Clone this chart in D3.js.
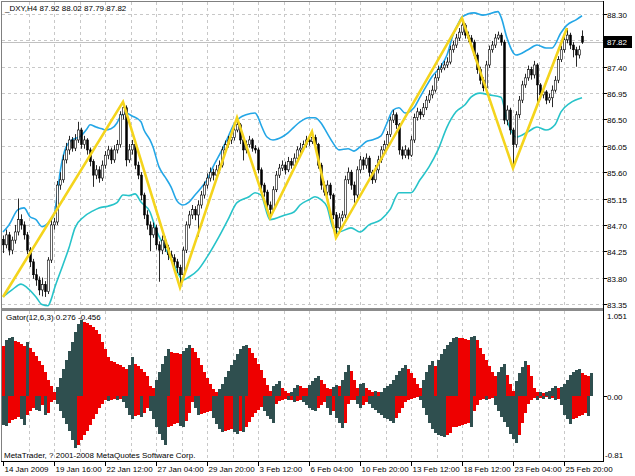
<!DOCTYPE html>
<html><head><meta charset="utf-8">
<script src="https://cdn.jsdelivr.net/npm/d3@7/dist/d3.min.js"></script>
<style>body{margin:0;background:#fff}text{font-family:"Liberation Sans",Arial,sans-serif;font-size:8px;fill:#000}</style>
</head><body><svg id="c" width="635" height="476"></svg>
<script>
const symbolTitle = "_DXY,H4  87.92 88.02 87.79 87.82";
const gatorTitle = "Gator(12,6,3) 0.276 -0.456";
const copyright = "MetaTrader, ? 2001-2008 MetaQuotes Software Corp.";
const timeLabels = ["14 Jan 2009","19 Jan 16:00","22 Jan 12:00","27 Jan 04:00","29 Jan 20:00","3 Feb 12:00","6 Feb 04:00","10 Feb 20:00","13 Feb 12:00","18 Feb 12:00","23 Feb 04:00","25 Feb 20:00"];
const timeLabelIdx = [0,17,34,51,68,85,102,119,136,153,170,187];
const priceTicks = [83.35,83.80,84.25,84.70,85.15,85.60,86.05,86.50,86.95,87.40,87.85,88.30];
const gatorTicks = [1.051,0.00,-0.81];
const lastPrice = 87.82;

const open = [84.45,84.36,84.53,84.27,84.44,84.58,84.79,84.70,84.53,84.27,84.07,83.85,83.76,83.59,83.68,83.56,84.10,84.70,84.75,85.38,85.47,85.81,85.98,86.15,86.01,86.15,86.32,86.07,86.15,85.98,85.78,85.55,85.64,85.50,85.72,85.89,85.98,85.81,85.98,86.07,86.58,86.70,85.81,85.98,86.07,85.72,85.55,85.21,84.87,84.70,84.53,84.65,84.36,84.27,84.44,84.31,84.19,84.14,84.07,83.97,83.85,84.27,84.70,84.87,84.96,84.87,85.04,85.21,85.38,85.50,85.60,85.55,85.64,85.72,85.98,86.07,86.15,86.19,86.32,86.41,86.15,85.98,86.07,86.15,86.01,85.98,85.64,85.38,85.26,85.04,84.96,85.30,85.55,85.67,85.72,85.64,85.78,85.72,85.84,85.98,86.01,86.07,86.15,86.12,86.19,86.07,85.72,85.38,85.26,85.38,85.21,84.87,84.65,84.82,84.87,85.47,85.60,85.38,85.21,85.64,85.81,85.72,85.84,85.60,85.47,85.64,85.81,85.98,86.07,86.24,86.49,86.58,86.41,85.98,85.89,85.98,85.89,86.15,86.53,86.63,86.58,86.70,86.83,86.92,87.00,87.21,87.35,87.38,87.43,87.48,87.69,87.77,87.89,87.99,88.11,87.94,87.89,87.82,87.60,87.35,87.17,87.04,87.43,87.69,87.77,87.89,87.94,87.82,86.49,86.66,86.32,86.07,86.58,86.83,87.09,87.21,87.35,87.26,87.43,87.09,86.92,86.97,86.83,86.87,87.00,87.17,87.52,87.69,87.86,87.94,87.77,87.69,87.60,87.92];
const high = [84.52,84.62,84.58,84.50,84.70,85.15,84.88,84.76,84.58,84.32,84.12,83.95,83.82,83.80,83.74,84.15,84.78,84.82,85.45,85.60,85.90,86.10,86.22,86.20,86.25,86.46,86.36,86.22,86.18,86.02,85.82,85.72,85.70,85.80,85.96,86.05,86.02,86.06,86.15,86.64,86.80,86.74,86.08,86.15,86.10,85.78,85.60,85.25,84.95,84.76,84.74,84.70,84.42,84.52,84.50,84.36,84.26,84.20,84.12,84.02,84.33,84.76,84.94,85.04,85.02,85.12,85.28,85.44,85.58,85.68,85.66,85.72,85.80,86.04,86.14,86.22,86.26,86.38,86.53,86.44,86.18,86.14,86.22,86.18,86.06,86.02,85.68,85.42,85.30,85.10,85.36,85.62,85.74,85.80,85.78,85.86,85.84,85.92,86.04,86.10,86.14,86.22,86.20,86.29,86.24,86.10,85.76,85.44,85.46,85.42,85.24,84.92,84.90,84.94,85.54,85.68,85.64,85.44,85.70,85.88,85.86,85.92,85.88,85.64,85.72,85.88,86.04,86.14,86.30,86.55,86.66,86.62,86.44,86.04,86.06,86.02,86.22,86.60,86.70,86.68,86.78,86.90,87.00,87.08,87.28,87.42,87.46,87.50,87.56,87.76,87.84,87.96,88.06,88.23,88.14,88.00,87.94,87.86,87.64,87.40,87.22,87.50,87.76,87.84,87.96,88.00,87.98,87.86,86.74,86.70,86.36,86.64,86.90,87.16,87.28,87.42,87.40,87.50,87.46,87.12,87.04,87.00,86.94,87.08,87.24,87.58,87.76,87.94,88.06,87.98,87.82,87.74,87.76,88.02];
const low = [84.22,84.30,84.18,84.20,84.38,84.52,84.62,84.45,84.20,83.98,83.78,83.66,83.50,83.48,83.47,83.52,84.05,84.62,84.70,85.30,85.42,85.75,85.90,85.95,85.96,86.10,86.00,86.00,85.90,85.70,85.35,85.48,85.42,85.45,85.66,85.82,85.74,85.76,85.92,86.02,86.50,85.70,85.76,85.90,85.65,85.48,85.12,84.80,84.62,84.25,84.48,84.28,83.73,84.20,84.24,84.10,84.06,83.98,83.88,83.63,83.80,84.22,84.64,84.80,84.78,84.50,84.98,85.15,85.32,85.44,85.46,85.50,85.58,85.68,85.92,86.02,86.08,86.14,86.28,86.08,85.80,85.92,86.02,85.95,85.92,85.58,85.30,85.18,84.96,84.82,84.92,85.26,85.50,85.62,85.56,85.60,85.66,85.68,85.80,85.92,85.96,86.02,86.05,86.08,86.00,85.66,85.30,85.20,85.20,85.14,84.80,84.48,84.60,84.76,84.82,85.40,85.30,85.08,85.16,85.58,85.64,85.66,85.52,85.40,85.42,85.58,85.76,85.92,86.02,86.20,86.44,86.34,85.90,85.82,85.84,85.82,85.86,86.10,86.48,86.50,86.54,86.66,86.78,86.86,86.96,87.16,87.30,87.34,87.38,87.44,87.64,87.72,87.84,87.94,87.88,87.82,87.74,87.54,87.28,87.10,86.98,87.00,87.38,87.64,87.72,87.86,87.76,86.42,86.40,86.24,85.67,86.02,86.52,86.78,87.04,87.16,87.18,87.20,86.80,86.84,86.86,86.76,86.78,86.71,86.96,87.12,87.48,87.64,87.80,87.70,87.56,87.40,87.54,87.79];
const close = [84.36,84.53,84.27,84.44,84.58,84.79,84.70,84.53,84.27,84.07,83.85,83.76,83.59,83.68,83.56,84.10,84.70,84.75,85.38,85.47,85.81,85.98,86.15,86.01,86.15,86.32,86.07,86.15,85.98,85.78,85.55,85.64,85.50,85.72,85.89,85.98,85.81,85.98,86.07,86.58,86.70,85.81,85.98,86.07,85.72,85.55,85.21,84.87,84.70,84.53,84.65,84.36,84.27,84.44,84.31,84.19,84.14,84.07,83.97,83.85,84.27,84.70,84.87,84.96,84.87,85.04,85.21,85.38,85.50,85.60,85.55,85.64,85.72,85.98,86.07,86.15,86.19,86.32,86.41,86.15,85.98,86.07,86.15,86.01,85.98,85.64,85.38,85.26,85.04,84.96,85.30,85.55,85.67,85.72,85.64,85.78,85.72,85.84,85.98,86.01,86.07,86.15,86.12,86.19,86.07,85.72,85.38,85.26,85.38,85.21,84.87,84.65,84.82,84.87,85.47,85.60,85.38,85.21,85.64,85.81,85.72,85.84,85.60,85.47,85.64,85.81,85.98,86.07,86.24,86.49,86.58,86.41,85.98,85.89,85.98,85.89,86.15,86.53,86.63,86.58,86.70,86.83,86.92,87.00,87.21,87.35,87.38,87.43,87.48,87.69,87.77,87.89,87.99,88.11,87.94,87.89,87.82,87.60,87.35,87.17,87.04,87.43,87.69,87.77,87.89,87.94,87.82,86.49,86.66,86.32,86.07,86.58,86.83,87.09,87.21,87.35,87.26,87.43,87.09,86.92,86.97,86.83,86.87,87.00,87.17,87.52,87.69,87.86,87.94,87.77,87.69,87.60,87.69,87.82];

const upperBandIdx = [0,2,5,7,9,11,13,15,17,18,19,20,21,23,26,28,29,31,33,34,36,38,39,41,43,46,47,49,50,52,54,56,58,60,62,64,66,68,70,73,75,77,79,81,84,85,86,88,90,93,95,97,99,102,104,106,108,110,112,115,117,119,121,123,126,128,130,132,134,137,139,141,143,146,148,150,152,153,157,160,165,166,168,171,175,178,181,183,186,188,191,193];
const upperBand = [84.58,84.70,84.96,84.99,84.84,84.79,84.67,84.73,84.87,85.18,85.59,85.86,86.03,86.15,86.22,86.34,86.41,86.37,86.34,86.32,86.34,86.44,86.54,86.61,86.56,86.46,86.32,86.15,86.03,85.69,85.52,85.35,85.11,85.04,85.09,85.21,85.33,85.47,85.69,85.98,86.20,86.42,86.53,86.58,86.61,86.54,86.41,86.20,86.15,86.20,86.27,86.37,86.46,86.53,86.53,86.44,86.27,86.10,85.98,86.00,85.96,86.03,86.12,86.15,86.22,86.44,86.66,86.70,86.61,86.70,86.88,87.06,87.23,87.41,87.60,87.94,88.16,88.25,88.32,88.28,88.34,88.25,87.89,87.60,87.69,87.77,87.72,87.72,87.98,88.11,88.20,88.27];
const lowerBandIdx = [0,3,6,8,11,13,15,16,17,20,22,24,27,30,32,35,38,40,42,44,46,49,51,54,57,60,62,65,68,72,75,78,82,84,86,89,94,97,99,102,104,106,108,110,112,116,119,122,126,129,132,136,139,142,145,148,151,154,156,159,162,166,168,171,175,178,181,184,186,189,193];
const lowerBand = [83.47,83.59,83.69,83.63,83.47,83.34,83.32,83.42,83.59,84.02,84.31,84.65,84.84,84.94,84.99,85.02,85.08,85.21,85.20,85.23,85.09,84.92,84.62,84.31,84.02,83.76,83.81,83.93,84.15,84.50,84.79,85.08,85.18,85.25,85.21,84.79,84.87,84.92,85.04,85.13,85.18,85.13,85.01,84.65,84.58,84.65,84.58,84.70,84.79,84.96,85.25,85.25,85.47,85.69,85.98,86.37,86.63,86.75,86.88,86.95,86.92,86.88,86.49,86.20,86.29,86.37,86.32,86.41,86.63,86.78,86.87];

const zigzagIdx = [0,40,59,78,89,103,111,153,170,188];
const zigzagPrice = [83.47,86.80,83.63,86.53,84.82,86.29,84.48,88.23,85.67,88.06];

const gatorUpper = [0.62,0.70,0.72,0.74,0.69,0.67,0.65,0.62,0.67,0.60,0.55,0.50,0.44,0.38,0.30,0.20,0.12,0.04,0.11,0.22,0.33,0.45,0.56,0.68,0.80,0.90,0.95,0.93,0.91,0.89,0.86,0.83,0.78,0.68,0.58,0.48,0.44,0.42,0.40,0.38,0.36,0.34,0.38,0.48,0.40,0.37,0.34,0.30,0.25,0.12,0.10,0.20,0.30,0.40,0.50,0.58,0.55,0.54,0.53,0.52,0.56,0.60,0.63,0.60,0.55,0.47,0.38,0.30,0.22,0.15,0.08,0.04,0.08,0.15,0.23,0.31,0.38,0.45,0.52,0.58,0.62,0.64,0.60,0.54,0.47,0.40,0.32,0.22,0.13,0.06,0.12,0.15,0.18,0.10,0.06,0.03,0.05,0.10,0.13,0.12,0.10,0.09,0.13,0.18,0.22,0.24,0.20,0.14,0.10,0.08,0.11,0.13,0.12,0.20,0.30,0.39,0.31,0.20,0.10,0.14,0.16,0.10,0.07,0.05,0.06,0.04,0.05,0.09,0.12,0.14,0.20,0.26,0.31,0.35,0.39,0.34,0.28,0.22,0.15,0.10,0.20,0.30,0.38,0.44,0.37,0.45,0.52,0.58,0.63,0.68,0.72,0.74,0.73,0.72,0.71,0.70,0.74,0.75,0.70,0.60,0.52,0.45,0.37,0.30,0.24,0.30,0.36,0.40,0.26,0.14,0.06,0.18,0.28,0.36,0.44,0.38,0.24,0.10,0.04,0.05,0.03,0.04,0.06,0.10,0.12,0.10,0.11,0.14,0.20,0.26,0.30,0.32,0.33,0.29,0.26,0.24,0.28];
const gatorLower = [-0.37,-0.38,-0.34,-0.31,-0.29,-0.27,-0.30,-0.37,-0.25,-0.20,-0.15,-0.18,-0.20,-0.12,-0.24,-0.22,-0.08,-0.05,-0.10,-0.20,-0.28,-0.36,-0.45,-0.56,-0.66,-0.62,-0.56,-0.50,-0.44,-0.37,-0.30,-0.23,-0.16,-0.10,-0.06,-0.07,-0.05,-0.04,-0.05,-0.04,-0.08,-0.16,-0.24,-0.30,-0.26,-0.24,-0.27,-0.22,-0.15,-0.20,-0.30,-0.40,-0.48,-0.56,-0.62,-0.40,-0.38,-0.36,-0.34,-0.38,-0.40,-0.32,-0.22,-0.08,-0.15,-0.24,-0.23,-0.22,-0.21,-0.20,-0.28,-0.36,-0.42,-0.46,-0.44,-0.43,-0.42,-0.46,-0.48,-0.44,-0.46,-0.40,-0.33,-0.27,-0.22,-0.18,-0.14,-0.20,-0.26,-0.30,-0.35,-0.10,-0.07,-0.05,-0.04,-0.06,-0.05,-0.08,-0.07,-0.06,-0.08,-0.12,-0.16,-0.18,-0.20,-0.16,-0.12,-0.08,-0.16,-0.24,-0.20,-0.28,-0.35,-0.41,-0.35,-0.10,-0.06,-0.05,-0.10,-0.15,-0.12,-0.08,-0.10,-0.15,-0.18,-0.22,-0.25,-0.28,-0.30,-0.32,-0.34,-0.28,-0.22,-0.15,-0.08,-0.05,-0.04,-0.03,-0.02,-0.05,-0.15,-0.25,-0.34,-0.42,-0.47,-0.50,-0.51,-0.52,-0.49,-0.47,-0.40,-0.39,-0.38,-0.37,-0.36,-0.35,-0.39,-0.20,-0.12,-0.06,-0.04,-0.05,-0.04,-0.03,-0.12,-0.20,-0.27,-0.33,-0.40,-0.48,-0.55,-0.60,-0.50,-0.35,-0.22,-0.10,-0.05,-0.03,-0.05,-0.03,-0.04,-0.02,-0.04,-0.03,-0.05,-0.04,-0.12,-0.25,-0.30,-0.36,-0.30,-0.28,-0.26,-0.24,-0.22,-0.26];

const svg = d3.select("#c");
const x = d3.scaleLinear().domain([0, 1]).range([3, 6]);
const y = d3.scaleLinear().domain([83.35, 88.30]).range([304, 14]);
const g = d3.scaleLinear().domain([-0.81, 1.051]).range([460, 312]);
const L = 2, R = 603, T = 2, MB = 308, GT = 311, GB = 461;

svg.append("rect").attr("width", 635).attr("height", 476).attr("fill", "#fff");
const defs = svg.append("defs");
defs.append("clipPath").attr("id", "cm").append("rect").attr("x", L).attr("y", T).attr("width", R - L).attr("height", MB - T);
defs.append("clipPath").attr("id", "cg").append("rect").attr("x", L).attr("y", GT).attr("width", R - L).attr("height", GB - GT);

// grid
const gridCol = "#c8c8c8";
const vIdx = d3.range(1, 23).map(k => k * 8.5);
const grid = svg.append("g").attr("stroke", gridCol).attr("stroke-dasharray", "3,3").attr("shape-rendering", "crispEdges");
vIdx.forEach(v => {
  const xx = Math.round(x(v)) + 0.5;
  if (xx < R) {
    grid.append("line").attr("x1", xx).attr("x2", xx).attr("y1", T).attr("y2", MB);
    grid.append("line").attr("x1", xx).attr("x2", xx).attr("y1", GT).attr("y2", GB);
  }
});
priceTicks.forEach(p => {
  const yy = Math.round(y(p)) + 0.5;
  grid.append("line").attr("x1", L).attr("x2", R).attr("y1", yy).attr("y2", yy);
});
// bid line
svg.append("line").attr("x1", L).attr("x2", R).attr("y1", Math.round(y(lastPrice)) + 0.5).attr("y2", Math.round(y(lastPrice)) + 0.5)
  .attr("stroke", "#c0c0c0").attr("shape-rendering", "crispEdges");

// main panel
const main = svg.append("g").attr("clip-path", "url(#cm)");
const line = d3.line().x(d => x(d[0])).y(d => y(d[1])).curve(d3.curveMonotoneX);
main.append("path").attr("d", line(upperBandIdx.map((v, i) => [v, upperBand[i]])))
  .attr("fill", "none").attr("stroke", "#23a6e6").attr("stroke-width", 1.6);
main.append("path").attr("d", line(lowerBandIdx.map((v, i) => [v, lowerBand[i]])))
  .attr("fill", "none").attr("stroke", "#27c3c9").attr("stroke-width", 1.6);

const candles = main.append("g");
close.forEach((c, i) => {
  const cx = Math.round(x(i));
  const o = open[i];
  candles.append("line").attr("x1", cx + 0.5).attr("x2", cx + 0.5).attr("y1", y(high[i])).attr("y2", y(low[i]))
    .attr("stroke", "#111").attr("stroke-width", 0.9);
  const top = y(Math.max(o, c)), bot = y(Math.min(o, c));
  candles.append("rect").attr("x", cx - 0.4).attr("y", top).attr("width", 1.8).attr("height", Math.max(1, bot - top))
    .attr("fill", c >= o ? "#fff" : "#000").attr("stroke", "#000").attr("stroke-width", 0.6);
});

main.append("path").attr("d", d3.line().x(d => x(d[0])).y(d => y(d[1]))(zigzagIdx.map((v, i) => [v, zigzagPrice[i]])))
  .attr("fill", "none").attr("stroke", "#f4d41c").attr("stroke-width", 2.6).attr("stroke-linejoin", "miter");

// gator panel
const dark = "#2f4f4f", red = "#ee0000";
const gp = svg.append("g").attr("clip-path", "url(#cg)").attr("shape-rendering", "crispEdges");
let prevCol = red;
gatorUpper.forEach((v, i) => {
  let col = prevCol;
  if (i > 0) { if (v > gatorUpper[i - 1]) col = dark; else if (v < gatorUpper[i - 1]) col = red; }
  prevCol = col;
  gp.append("rect").attr("x", Math.round(x(i)) - 1).attr("width", 3).attr("y", g(v)).attr("height", g(0) - g(v)).attr("fill", col);
});
prevCol = dark;
gatorLower.forEach((v, i) => {
  let col = prevCol;
  if (i > 0) { if (Math.abs(v) > Math.abs(gatorLower[i - 1])) col = dark; else if (Math.abs(v) < Math.abs(gatorLower[i - 1])) col = red; }
  prevCol = col;
  gp.append("rect").attr("x", Math.round(x(i)) - 1).attr("width", 3).attr("y", g(0)).attr("height", g(v) - g(0)).attr("fill", col);
});

// frames
const fr = svg.append("g").attr("shape-rendering", "crispEdges");
fr.append("line").attr("x1", 1.5).attr("x2", 1.5).attr("y1", 1).attr("y2", GB).attr("stroke", "#808080");
fr.append("line").attr("x1", 1).attr("x2", R).attr("y1", 1.5).attr("y2", 1.5).attr("stroke", "#808080");
fr.append("rect").attr("x", 1).attr("y", 308).attr("width", R - 1).attr("height", 3).attr("fill", "#8c8c8c");
fr.append("line").attr("x1", R + 0.5).attr("x2", R + 0.5).attr("y1", 1).attr("y2", GB + 1).attr("stroke", "#000");
fr.append("line").attr("x1", 1).attr("x2", R + 1).attr("y1", GB + 0.5).attr("y2", GB + 0.5).attr("stroke", "#000");

// price axis
priceTicks.forEach(p => {
  const yy = Math.round(y(p)) + 0.5;
  fr.append("line").attr("x1", R).attr("x2", R + 4).attr("y1", yy).attr("y2", yy).attr("stroke", "#000");
  svg.append("text").attr("x", 607).attr("y", yy + 3).text(p.toFixed(2));
});
const by = Math.round(y(lastPrice));
svg.append("rect").attr("x", 604).attr("y", by - 6).attr("width", 28).attr("height", 12).attr("fill", "#000");
svg.append("text").attr("x", 607).attr("y", by + 3).attr("style", "fill:#fff").text(lastPrice.toFixed(2));

// gator axis
gatorTicks.forEach((v, i) => {
  const yy = Math.round(g(v)) + 0.5;
  const ty = i === 0 ? yy + 6 : (i === 2 ? yy - 3 : yy + 3);
  if (i === 1) fr.append("line").attr("x1", R).attr("x2", R + 4).attr("y1", yy).attr("y2", yy).attr("stroke", "#000");
  svg.append("text").attr("x", i === 2 ? 605 : 607).attr("y", ty).text(i === 0 ? "1.051" : (i === 1 ? "0.00" : "-0.81"));
});

// time axis
timeLabelIdx.forEach((v, i) => {
  const xx = Math.round(x(v)) + 0.5;
  fr.append("line").attr("x1", xx).attr("x2", xx).attr("y1", GB).attr("y2", GB + 5).attr("stroke", "#000");
  svg.append("text").attr("x", xx + 1).attr("y", 472).text(timeLabels[i]);
});

svg.append("text").attr("x", 5).attr("y", 11).text(symbolTitle);
svg.append("text").attr("x", 6).attr("y", 320).text(gatorTitle);
svg.append("text").attr("x", 4).attr("y", 458).text(copyright);
</script></body></html>
